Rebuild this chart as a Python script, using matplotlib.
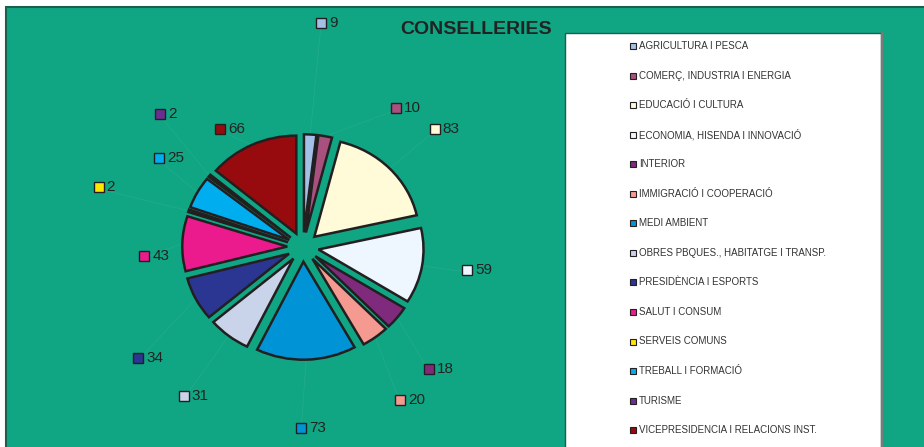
import numpy as np
import matplotlib
matplotlib.use('Agg')
import matplotlib.pyplot as plt
from matplotlib.patches import Rectangle

plt.rcParams['font.family'] = ['Liberation Sans', 'DejaVu Sans']

# data
names = ['AGRICULTURA I PESCA', 'COMERÇ, INDUSTRIA I ENERGIA', 'EDUCACIÓ I CULTURA',
         'ECONOMIA, HISENDA I INNOVACIÓ', 'INTERIOR', 'IMMIGRACIÓ I COOPERACIÓ',
         'MEDI AMBIENT', 'OBRES PBQUES., HABITATGE I TRANSP.', 'PRESIDÈNCIA I ESPORTS',
         'SALUT I CONSUM', 'SERVEIS COMUNS', 'TREBALL I FORMACIÓ', 'TURISME',
         'VICEPRESIDENCIA I RELACIONS INST.']
values = [9, 10, 83, 59, 18, 20, 73, 31, 34, 43, 2, 25, 2, 66]
colors = ['#a3c1e6', '#a8507e', '#fffbd8', '#eef6ff', '#802a7e', '#f59a90',
          '#0094d7', '#c9d3ea', '#2b3592', '#ec1b8d', '#ffe600', '#00aeef',
          '#6a2e92', '#970b0e']

# layout of the value labels: distance from centre (px) and angular nudge (deg)
label_dist = [225, 167, 177, 166, 175, 181, 181, 191, 199, 159, 213, 169, 195, 144]
label_nudge = [1.2, 23.2, 2.3, -1.7, 5.2, 4.4, 2.1, 0.7, -6.5, -4.9, -2.4, 2.6, 3.8, -10.1]

W, H = 924, 447
cx, cy = 303, 247   # pie centre in pixels (from top-left)
Rx, Ry = 105, 98    # pie radii in pixels (slightly wider than tall)
explode = 0.15
teal = '#10a684'
ink = '#231f20'

fig = plt.figure(figsize=(W / 100, H / 100), dpi=100)
fig.patch.set_facecolor('white')

# pixel-space axes for the frame, legend and labels
px = fig.add_axes([0, 0, 1, 1])
px.set_xlim(0, W)
px.set_ylim(H, 0)
px.axis('off')

px.add_patch(Rectangle((6, 7), W + 20, H + 20, facecolor=teal, edgecolor='#1b5f4d', lw=1.5, zorder=0))

# legend box
px.add_patch(Rectangle((565, 33), 316, H, facecolor='white', edgecolor='#1b5f4d', lw=1.0, zorder=1))
px.plot([881.5, 881.5], [33, H], color='#7a7a7a', lw=1.6, zorder=2)
for i, (n, c) in enumerate(zip(names, colors)):
    y = 46 + i * 29.55
    px.add_patch(Rectangle((630, y - 3), 6, 6, facecolor=c, edgecolor=ink, lw=0.8, zorder=3))
    px.text(639, y, n, fontsize=7, color='#333333', va='center', ha='left', zorder=3)

px.text(476, 29, 'CONSELLERIES', fontsize=14, fontweight='bold', color='#222222',
        ha='center', va='center', zorder=3)

# pie, in its own axes filling the figure
pa = fig.add_axes([0, 0, 1, 1])
pa.patch.set_alpha(0)
wedges, _ = pa.pie(values, colors=colors, startangle=90, counterclock=False,
                   explode=[explode] * len(values),
                   wedgeprops=dict(edgecolor=ink, linewidth=1.8))
pa.set_aspect('auto')
pa.set_xlim(-cx / Rx, (W - cx) / Rx)
pa.set_ylim(-(H - cy) / Ry, cy / Ry)
pa.axis('off')

# value labels with a colour key and a faint leader line
for w, v, c, d, nud in zip(wedges, values, colors, label_dist, label_nudge):
    mid = np.deg2rad((w.theta1 + w.theta2) / 2)
    sx = cx + Rx * (1 + explode) * np.cos(mid)
    sy = cy - Ry * (1 + explode) * np.sin(mid)
    ang = mid - np.deg2rad(nud)
    lx = cx + d * np.cos(ang)
    ly = cy - d * np.sin(ang)
    px.plot([sx, lx], [sy, ly + 2], color='#24ab8b', lw=0.5, zorder=1)
    px.add_patch(Rectangle((lx - 5, ly - 5), 10, 10, facecolor=c, edgecolor=ink, lw=1.0, zorder=3))
    px.text(lx + 8, ly, str(v), fontsize=11, color='#222222', ha='left', va='center', zorder=3)

fig.savefig('out.png', dpi=100, facecolor='white')
